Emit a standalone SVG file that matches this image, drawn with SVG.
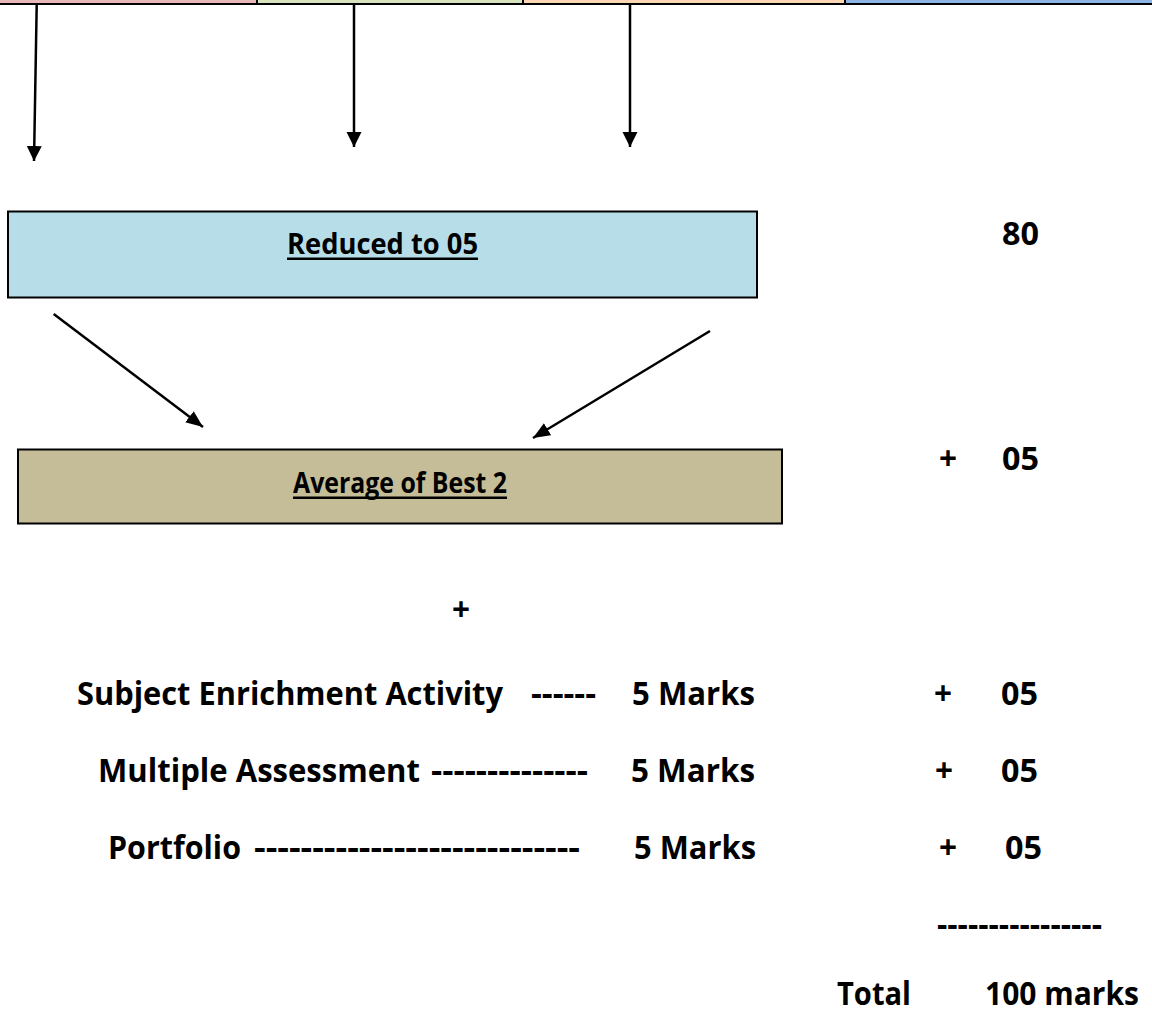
<svg xmlns="http://www.w3.org/2000/svg" width="1152" height="1016" viewBox="0 0 1152 1016">
<style>
  .t { font-family: "Open Sans", "Liberation Sans", sans-serif; font-weight: bold; fill: #000; }
  .row { font-size: 33px; }
  .box { font-size: 29px; }
  .conn { stroke: #000; stroke-width: 2.5; fill: none; }
  .node { stroke: #000; stroke-width: 2; }
</style>
<defs>
  <marker id="ah" markerUnits="userSpaceOnUse" markerWidth="18" markerHeight="16" refX="15" refY="7.5" orient="auto">
    <path d="M0,0 L15,7.5 L0,15 z" fill="#000"/>
  </marker>
  <marker id="ah2" markerUnits="userSpaceOnUse" markerWidth="20" markerHeight="16" refX="17" refY="7" orient="auto">
    <path d="M0,0 L17,7 L0,14 z" fill="#000"/>
  </marker>
</defs>
<rect x="0" y="0" width="1152" height="1016" fill="#ffffff"/>

<g id="top-strip">
  <rect x="0" y="0" width="257" height="4" fill="#e6b9b8"/>
  <rect x="257" y="0" width="266" height="4" fill="#d7e4bd"/>
  <rect x="523" y="0" width="322" height="4" fill="#fcd5b5"/>
  <rect x="845" y="0" width="307" height="4" fill="#8eb4e3"/>
  <rect x="256" y="0" width="2" height="4" fill="#000"/>
  <rect x="522" y="0" width="2" height="4" fill="#000"/>
  <rect x="844" y="0" width="2" height="4" fill="#000"/>
  <rect x="0" y="3" width="1152" height="2" fill="#000"/>
</g>

<g id="node-reduced">
  <rect class="node" x="8" y="211.5" width="749" height="86" fill="#b7dee8"/>
  <text class="t box" x="287" y="254" textLength="191" lengthAdjust="spacingAndGlyphs">Reduced to 05</text>
  <rect x="287" y="257.5" width="191" height="2.5" fill="#000"/>
</g>

<g id="node-average">
  <rect class="node" x="18" y="449.5" width="764" height="74" fill="#c4bd97"/>
  <text class="t box" x="293" y="493" textLength="214" lengthAdjust="spacingAndGlyphs">Average of Best 2</text>
  <rect x="293" y="496.5" width="214" height="2.5" fill="#000"/>
</g>

<g id="connectors">
  <line class="conn" x1="36.7" y1="5" x2="34" y2="161" marker-end="url(#ah)"/>
  <line class="conn" x1="354" y1="5" x2="354" y2="147" marker-end="url(#ah)"/>
  <line class="conn" x1="630" y1="5" x2="630" y2="147" marker-end="url(#ah)"/>
  <line class="conn" x1="53.7" y1="314" x2="203" y2="427" marker-end="url(#ah2)"/>
  <line class="conn" x1="710" y1="331" x2="533" y2="438" marker-end="url(#ah2)"/>
</g>

<g id="right-scores">
  <text class="t row" x="1002" y="245" textLength="37" lengthAdjust="spacingAndGlyphs">80</text>
  <text class="t row" x="939" y="470" textLength="18" lengthAdjust="spacingAndGlyphs">+</text>
  <text class="t row" x="1002" y="470" textLength="37" lengthAdjust="spacingAndGlyphs">05</text>
  <text class="t row" x="452" y="621" textLength="18" lengthAdjust="spacingAndGlyphs">+</text>
</g>

<g id="row-enrichment">
  <text class="t row" x="77" y="705" textLength="426" lengthAdjust="spacingAndGlyphs">Subject Enrichment Activity</text>
  <text class="t row" x="531" y="705" textLength="65" lengthAdjust="spacingAndGlyphs">------</text>
  <text class="t row" x="632" y="705" textLength="123" lengthAdjust="spacingAndGlyphs">5 Marks</text>
  <text class="t row" x="934" y="705" textLength="18" lengthAdjust="spacingAndGlyphs">+</text>
  <text class="t row" x="1001" y="705" textLength="37" lengthAdjust="spacingAndGlyphs">05</text>
</g>

<g id="row-multiple">
  <text class="t row" x="98" y="782" textLength="322" lengthAdjust="spacingAndGlyphs">Multiple Assessment</text>
  <text class="t row" x="431" y="782" textLength="157" lengthAdjust="spacingAndGlyphs">--------------</text>
  <text class="t row" x="631" y="782" textLength="124" lengthAdjust="spacingAndGlyphs">5 Marks</text>
  <text class="t row" x="935" y="782" textLength="18" lengthAdjust="spacingAndGlyphs">+</text>
  <text class="t row" x="1001" y="782" textLength="37" lengthAdjust="spacingAndGlyphs">05</text>
</g>

<g id="row-portfolio">
  <text class="t row" x="108" y="859" textLength="133" lengthAdjust="spacingAndGlyphs">Portfolio</text>
  <text class="t row" x="254" y="859" textLength="326" lengthAdjust="spacingAndGlyphs">----------------------------</text>
  <text class="t row" x="634" y="859" textLength="122" lengthAdjust="spacingAndGlyphs">5 Marks</text>
  <text class="t row" x="939" y="859" textLength="18" lengthAdjust="spacingAndGlyphs">+</text>
  <text class="t row" x="1005" y="859" textLength="37" lengthAdjust="spacingAndGlyphs">05</text>
</g>

<g id="total">
  <text class="t row" x="937" y="936" textLength="165" lengthAdjust="spacingAndGlyphs">----------------</text>
  <text class="t row" x="837" y="1005" textLength="74" lengthAdjust="spacingAndGlyphs">Total</text>
  <text class="t" x="985" y="1005" font-size="32" textLength="154" lengthAdjust="spacingAndGlyphs">100 marks</text>
</g>
</svg>
